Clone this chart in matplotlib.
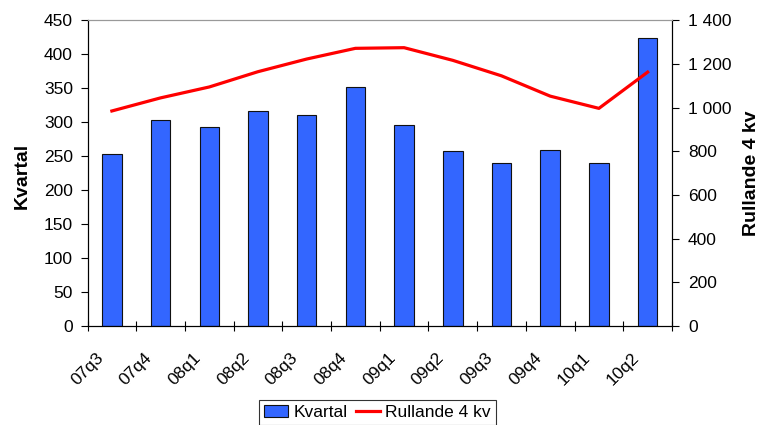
import numpy as np
import matplotlib
matplotlib.use("Agg")
import matplotlib.pyplot as plt
from matplotlib.transforms import ScaledTranslation

plt.rcParams['font.family'] = ['Liberation Sans', 'DejaVu Sans']

quarters = ['07q3', '07q4', '08q1', '08q2', '08q3', '08q4',
            '09q1', '09q2', '09q3', '09q4', '10q1', '10q2']
kvartal = [253, 303, 293, 316, 311, 352, 296, 258, 240, 259, 240, 424]
rullande = [985, 1045, 1095, 1165, 1223, 1272, 1275, 1217, 1146, 1053, 997, 1163]

fig = plt.figure(figsize=(7.61, 4.25), dpi=100)
ax = fig.add_axes([0.115, 0.233, 0.768, 0.719])
ax2 = ax.twinx()

x = np.arange(len(quarters))
bars = ax.bar(x, kvartal, width=0.40, color='#3366FF', edgecolor='#111111',
              linewidth=0.8, label='Kvartal', zorder=2)
line, = ax2.plot(x, rullande, color='#FF0000', linewidth=2.3,
                 label='Rullande 4 kv')

ax.set_xlim(-0.5, len(quarters) - 0.5)
ax.set_ylim(0, 450)
ax.set_yticks(range(0, 451, 50))
ax2.set_ylim(0, 1400)
ax2.set_yticks(range(0, 1401, 200))
ax2.set_yticklabels([f'{v:,}'.replace(',', ' ') for v in range(0, 1401, 200)])

# ticks between categories, labels under each bar
ax.set_xticks(np.arange(-0.5, len(quarters), 1.0))
ax.set_xticklabels([])
ax.set_xticks(x, minor=True)
ax.set_xticklabels(quarters, minor=True, rotation=45, ha='right', va='center',
                   rotation_mode='anchor', fontsize=12.5)
ax.tick_params(axis='x', which='minor', length=0, pad=21)
ax.tick_params(axis='x', which='major', length=7, direction='inout', width=0.8)
ax.tick_params(axis='y', length=5, direction='out', width=0.8, labelsize=12.5, pad=5.5)
ax2.tick_params(axis='y', length=5, direction='out', width=0.8, labelsize=12.5, pad=6.5)

shift = ScaledTranslation(-11 / 100, 0, fig.dpi_scale_trans)
for lab in ax.get_xticklabels(minor=True):
    lab.set_transform(lab.get_transform() + shift)

for a in (ax, ax2):
    a.spines['top'].set_color('#999999')
    a.spines['left'].set_color('black')
    a.spines['right'].set_color('black')
    a.spines['bottom'].set_color('black')

ax.set_ylabel('Kvartal', fontsize=14, fontweight='bold')
ax.yaxis.set_label_coords(-0.097, 0.49)
ax2.set_ylabel('Rullande 4 kv', fontsize=14, fontweight='bold', rotation=90)
ax2.yaxis.set_label_coords(1.122, 0.5)

leg = fig.legend([bars, line], ['Kvartal', 'Rullande 4 kv'], loc='upper center',
                 bbox_to_anchor=(0.496, 0.059), ncol=2, frameon=True,
                 fancybox=False, edgecolor='black', fontsize=12.5,
                 handlelength=1.38, handleheight=0.7, handletextpad=0.3,
                 columnspacing=0.46, borderpad=0.3, borderaxespad=0)
leg.get_frame().set_linewidth(0.8)

fig.savefig('out.png', dpi=100)
